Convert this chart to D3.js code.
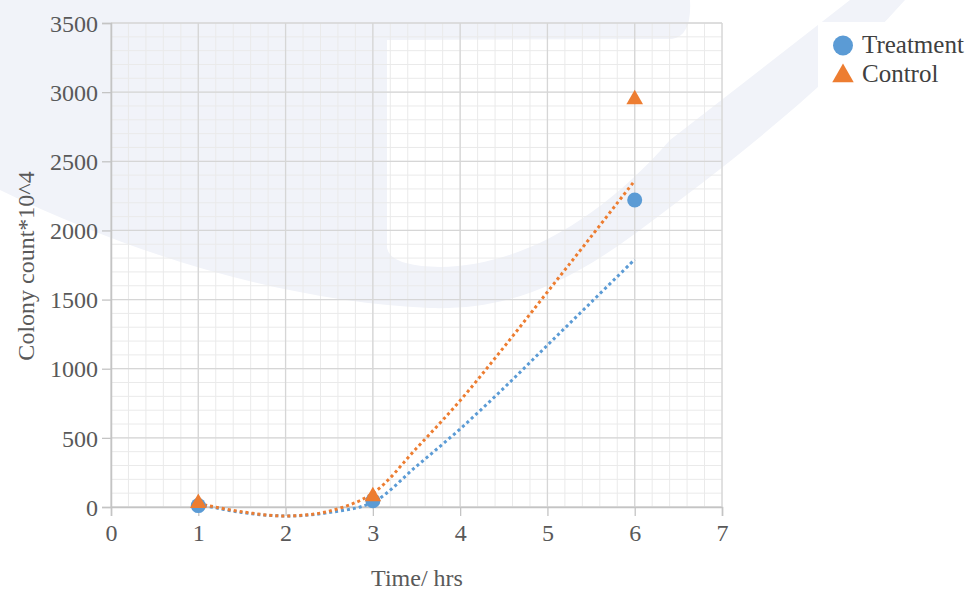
<!DOCTYPE html>
<html>
<head>
<meta charset="utf-8">
<script src="https://cdn.jsdelivr.net/npm/d3@7"></script>
<style>
  body { margin: 0; background: #fff; }
</style>
</head>
<body>
<svg width="971" height="593"></svg>
<script>
var width = 971;
var height = 593;
var serif = "Liberation Serif";

// measured points
var timeHrs = [1, 3, 6];
var treatment = [10, 45, 2220];
var control = [20, 70, 2940];

// trendlines
var trendX = [1, 1.5, 2, 2.5, 3, 3.5, 4, 4.5, 5, 5.5, 6];
var treatmentTrend = [20, -40, -65, -40, 35, 295, 565, 860, 1170, 1480, 1790];
var controlTrend = [25, -35, -65, -30, 100, 425, 770, 1155, 1555, 1955, 2360];

var xTicks = [0, 1, 2, 3, 4, 5, 6, 7];
var yTicks = [0, 500, 1000, 1500, 2000, 2500, 3000, 3500];

var blue = "#5b9bd5";
var orange = "#ed7d31";

var chart = d3.select("svg");

var x = d3.scaleLinear().domain([0, 7]).range([111, 722]);
var y = d3.scaleLinear().domain([0, 3500]).range([507, 23]);

// faint watermark swoosh behind the plot
var wm = d3.path();
wm.moveTo(0, 0);
wm.lineTo(690, 0);
wm.quadraticCurveTo(692, 36, 672, 39);
wm.lineTo(387, 40);
wm.lineTo(387, 248);
wm.quadraticCurveTo(390, 266, 440, 267);
wm.bezierCurveTo(520, 266, 600, 220, 670, 140);
wm.lineTo(850, 0);
wm.lineTo(905, 0);
wm.bezierCurveTo(820, 95, 720, 170, 640, 230);
wm.bezierCurveTo(560, 290, 500, 310, 430, 308);
wm.bezierCurveTo(300, 302, 150, 263, 0, 190);
wm.closePath();
chart.append("path")
    .attr("d", wm.toString())
    .attr("fill", "#f1f3f9");

// minor grid
var xMinor = d3.range(0, 7.001, 0.2);
var yMinor = d3.range(0, 3500.1, 100);
chart.append("g").selectAll("line")
    .data(xMinor)
    .enter()
    .append("line")
    .attr("x1", function (d) { return x(d); })
    .attr("x2", function (d) { return x(d); })
    .attr("y1", y(3500))
    .attr("y2", y(0))
    .attr("stroke", "#eaeaea")
    .attr("stroke-width", 1);
chart.append("g").selectAll("line")
    .data(yMinor)
    .enter()
    .append("line")
    .attr("x1", x(0))
    .attr("x2", x(7))
    .attr("y1", function (d) { return y(d); })
    .attr("y2", function (d) { return y(d); })
    .attr("stroke", "#eaeaea")
    .attr("stroke-width", 1);

// major grid
chart.append("g").selectAll("line")
    .data(xTicks)
    .enter()
    .append("line")
    .attr("x1", function (d) { return x(d); })
    .attr("x2", function (d) { return x(d); })
    .attr("y1", y(3500))
    .attr("y2", y(0))
    .attr("stroke", "#d6d6d6")
    .attr("stroke-width", 1.3);
chart.append("g").selectAll("line")
    .data(yTicks)
    .enter()
    .append("line")
    .attr("x1", x(0))
    .attr("x2", x(7))
    .attr("y1", function (d) { return y(d); })
    .attr("y2", function (d) { return y(d); })
    .attr("stroke", "#d6d6d6")
    .attr("stroke-width", 1.3);

// axes
var xAxis = d3.axisBottom(x).tickValues(xTicks).tickFormat(d3.format("d")).tickSize(9).tickPadding(8);
var yAxis = d3.axisLeft(y).tickValues(yTicks).tickFormat(d3.format("d")).tickSize(9).tickPadding(4);

var xg = chart.append("g")
    .attr("transform", "translate(0," + y(0) + ")")
    .call(xAxis);
var yg = chart.append("g")
    .attr("transform", "translate(" + x(0) + ",0)")
    .call(yAxis);

[xg, yg].forEach(function (g) {
    g.attr("font-family", serif).attr("font-size", 24);
    g.select(".domain").attr("stroke", "#c4c4c4").attr("stroke-width", 1.5);
    g.selectAll(".tick line").attr("stroke", "#c4c4c4").attr("stroke-width", 1.3);
    g.selectAll(".tick text").attr("fill", "#595959");
});
yg.selectAll(".tick text").attr("dy", "0.34em");

// axis titles
chart.append("text")
    .attr("x", 417)
    .attr("y", 586)
    .attr("text-anchor", "middle")
    .attr("font-family", serif)
    .attr("font-size", 24)
    .attr("fill", "#595959")
    .text("Time/ hrs");
chart.append("text")
    .attr("transform", "translate(34,266) rotate(-90)")
    .attr("text-anchor", "middle")
    .attr("font-family", serif)
    .attr("font-size", 24)
    .attr("fill", "#595959")
    .text("Colony count*10^4");

// trendlines
var line = d3.line()
    .x(function (d) { return x(d[0]); })
    .y(function (d) { return y(d[1]); })
    .curve(d3.curveCatmullRom.alpha(0.5));

chart.append("path")
    .datum(d3.zip(trendX, treatmentTrend))
    .attr("d", line)
    .attr("fill", "none")
    .attr("stroke", blue)
    .attr("stroke-width", 3)
    .attr("stroke-dasharray", "3 3");
chart.append("path")
    .datum(d3.zip(trendX, controlTrend))
    .attr("d", line)
    .attr("fill", "none")
    .attr("stroke", orange)
    .attr("stroke-width", 3)
    .attr("stroke-dasharray", "3 3");

// data points
var tri = d3.symbol().type(d3.symbolTriangle).size(120);

chart.append("g").selectAll("circle")
    .data(d3.zip(timeHrs, treatment))
    .enter()
    .append("circle")
    .attr("cx", function (d) { return x(d[0]); })
    .attr("cy", function (d) { return y(d[1]); })
    .attr("r", 7.5)
    .attr("fill", blue);
chart.append("g").selectAll("path")
    .data(d3.zip(timeHrs, control))
    .enter()
    .append("path")
    .attr("d", tri)
    .attr("transform", function (d) { return "translate(" + x(d[0]) + "," + (y(d[1]) - 1) + ")"; })
    .attr("fill", orange);

// legend
chart.append("rect")
    .attr("x", 818).attr("y", 22)
    .attr("width", 135).attr("height", 96)
    .attr("fill", "#fff");
var legend = chart.append("g");
legend.append("circle")
    .attr("cx", 843).attr("cy", 45.5).attr("r", 10)
    .attr("fill", blue);
legend.append("path")
    .attr("d", d3.symbol().type(d3.symbolTriangle).size(200))
    .attr("transform", "translate(843,76)")
    .attr("fill", orange);
legend.append("text")
    .attr("x", 862).attr("y", 53)
    .attr("font-family", serif)
    .attr("font-size", 25)
    .attr("fill", "#404040")
    .text("Treatment");
legend.append("text")
    .attr("x", 862).attr("y", 82)
    .attr("font-family", serif)
    .attr("font-size", 25)
    .attr("fill", "#404040")
    .text("Control");
</script>
</body>
</html>
